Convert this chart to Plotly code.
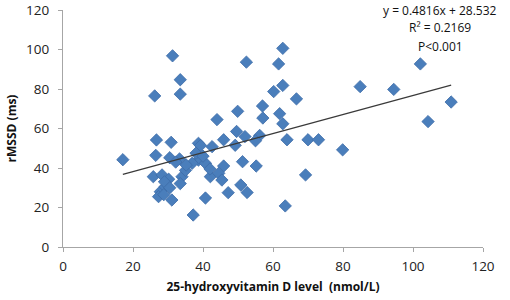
import plotly.graph_objects as go

vitd = [17.1, 26.2, 26.7, 26.5, 25.8, 28.3, 30.5, 30.9, 31.3, 33.5, 33.5, 33.3, 30.2, 34.0, 35.0,
        27.8, 29.2, 27.3, 31.1, 33.5, 38.7, 45.9, 49.6, 52.0, 56.2, 42.6, 49.2, 38.7, 36.9, 40.7,
        45.9, 51.3, 55.2, 42.1, 44.5, 45.4, 50.8, 52.6, 47.2, 40.7, 37.2, 63.5, 69.3, 52.4, 61.6,
        62.8, 60.2, 62.8, 57.0, 49.9, 44.0, 57.1, 61.9, 62.8, 66.7, 64.0, 70.0, 73.0, 79.9, 84.9,
        94.5, 102.1, 104.3, 110.9, 39.3, 32.2, 35.2, 29.0, 30.5, 28.8, 38.0, 40.0, 55.0, 42.0]
rmssd = [44.2, 76.5, 54.2, 46.4, 35.6, 36.5, 45.2, 53.0, 96.8, 84.7, 77.4, 44.6, 34.3, 35.6, 38.8,
         28.0, 30.5, 25.5, 23.8, 32.1, 52.5, 54.3, 58.5, 55.9, 56.5, 50.8, 51.5, 44.0, 42.4, 42.4,
         41.0, 43.2, 41.0, 35.6, 37.3, 33.9, 31.4, 27.6, 27.5, 24.8, 16.2, 20.8, 36.5, 93.6, 92.7,
         100.6, 78.7, 81.8, 71.4, 68.7, 64.5, 65.3, 67.5, 62.4, 75.0, 54.3, 54.3, 54.3, 49.2, 81.2,
         79.8, 92.7, 63.5, 73.4, 51.4, 43.0, 41.5, 33.0, 30.0, 26.5, 47.5, 46.0, 53.8, 39.5]

slope = 0.4816
intercept = 28.532
trend_x = [min(vitd), max(vitd)]
trend_y = [slope * v + intercept for v in trend_x]

tick_vals = [0, 20, 40, 60, 80, 100, 120]
stat_lines = ["y = 0.4816x + 28.532", "R² = 0.2169", "P<0.001"]

fig = go.Figure()
fig.add_trace(go.Scatter(
    x=vitd, y=rmssd, mode="markers",
    marker=dict(symbol="diamond", size=9.5, color="#4a7ebb",
                line=dict(color="#3d6ca8", width=0.8)),
    showlegend=False, hoverinfo="skip"))
fig.add_trace(go.Scatter(
    x=trend_x, y=trend_y, mode="lines",
    line=dict(color="#3a3a3a", width=1.2),
    showlegend=False, hoverinfo="skip"))

font_family = "'Open Sans', Lato, sans-serif"
axis_common = dict(
    range=[0, 120], tickvals=tick_vals, showgrid=False, zeroline=False,
    showline=True, linecolor="#a6a6a6", linewidth=1.2, automargin=False,
    ticks="outside", ticklen=4, tickcolor="#a6a6a6", tickwidth=1,
    tickfont=dict(family=font_family, size=13.5, color="#222222"),
)
fig.update_xaxes(**axis_common, ticklabelstandoff=3,
                 title=dict(text="<b>25-hydroxyvitamin D level  (nmol/L)</b>",
                            font=dict(family=font_family, size=12, color="#111111"),
                            standoff=8))
fig.update_yaxes(**axis_common, ticklabelstandoff=6,
                 title=dict(text="<b>rMSSD (ms)</b>",
                            font=dict(family=font_family, size=12, color="#111111"),
                            standoff=6))

L, R, T, B = 63, 27, 10, 53
W, H = 510, 300
pw, ph = W - L - R, H - T - B

for txt, ypx in zip(stat_lines, [11, 28, 46]):
    fig.add_annotation(
        x=(440 - L) / pw, y=1 - (ypx - T) / ph, xref="paper", yref="paper",
        xanchor="center", yanchor="middle", text=txt, showarrow=False,
        font=dict(family=font_family, size=12, color="#111111"))

fig.update_layout(
    width=W, height=H,
    margin=dict(l=L, r=R, t=T, b=B),
    plot_bgcolor="white", paper_bgcolor="white",
)

fig.write_html("out.html", config={"displayModeBar": False},
               post_script="document.body.style.margin='0';document.body.style.padding='0';")
